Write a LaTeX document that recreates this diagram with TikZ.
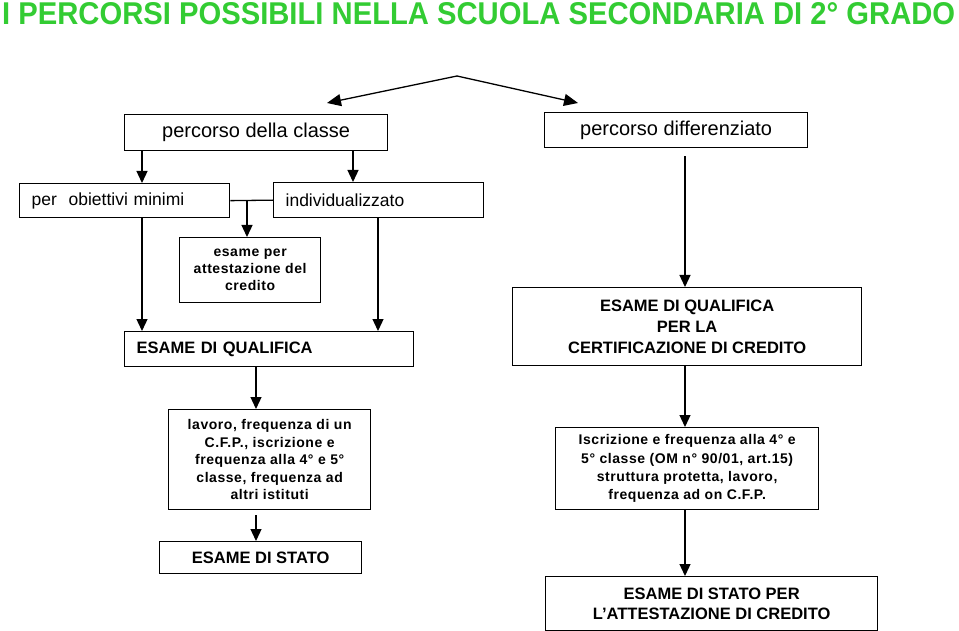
\documentclass[tikz,border=0pt]{standalone}
\usepackage{fontspec}
\setmainfont{Liberation Sans}
\usepackage{graphicx}
\usetikzlibrary{arrows.meta}
\definecolor{titlegreen}{RGB}{51,204,51}
\begin{document}
\begin{tikzpicture}[x=1pt,y=-1pt,
  box/.style={draw, line width=1.3pt, inner sep=0pt, anchor=north west, align=center},
  lbox/.style={box, align=left, inner xsep=12pt, text width=#1},
  arr/.style={line width=1.3pt, -{Triangle[length=12pt,width=11pt]}},
  toparr/.style={line width=1.3pt, -{Triangle[length=14pt,width=12pt]}},
  ln/.style={line width=1.3pt},
  plainbig/.style={font=\fontsize{20}{24}\selectfont},
  plainmid/.style={font=\fontsize{17.5}{21}\selectfont},
  smallbold/.style={font=\fontsize{14}{#1}\selectfont\bfseries\addfontfeature{LetterSpace=4}},
  capsbold/.style={font=\fontsize{16.5}{#1}\selectfont\bfseries}
]
\useasboundingbox (0,0) rectangle (959,631);
\fill[white] (0,0) rectangle (959,631);

% title
\node[anchor=base west, inner sep=0pt, text=titlegreen] (title) at (2,25)
  {\resizebox{953pt}{22pt}{\bfseries I PERCORSI POSSIBILI NELLA SCUOLA SECONDARIA DI 2° GRADO}};

% boxes
\node[box, minimum width=263pt, minimum height=36pt, plainbig] (classe) at (124,114) {percorso della classe};
\node[box, minimum width=263pt, minimum height=35pt, plainbig] (diff) at (544,112) {percorso differenziato};
\node[lbox=186pt, minimum height=34pt, plainmid] (obiet) at (19,183) {per\ \ obiettivi minimi};
\node[lbox=186pt, minimum height=35pt, plainmid] (indiv) at (273,182) {individualizzato};
\node[box, minimum width=141pt, minimum height=65pt, smallbold=17] (esper) at (179,237) {esame per\\attestazione del\\credito};
\node[lbox=265pt, minimum height=35pt, capsbold=20] (qual) at (124,331) {ESAME DI QUALIFICA};
\node[box, minimum width=349pt, minimum height=78pt, capsbold=21] (cert) at (512,287) {ESAME DI QUALIFICA\\PER LA\\CERTIFICAZIONE DI CREDITO};
\node[box, minimum width=202pt, minimum height=100pt, smallbold=17.5] (lav) at (168,409) {lavoro, frequenza di un\\C.F.P., iscrizione e\\frequenza alla 4° e 5°\\classe, frequenza ad\\altri istituti};
\node[box, minimum width=263pt, minimum height=82pt, smallbold=18.3] (iscr) at (555,427) {Iscrizione e frequenza alla 4° e\\5° classe (OM n° 90/01, art.15)\\struttura protetta, lavoro,\\frequenza ad on C.F.P.};
\node[box, minimum width=202pt, minimum height=32pt, capsbold=20] (stato) at (159,541) {ESAME DI STATO};
\node[box, minimum width=332pt, minimum height=54pt, capsbold=20] (stato2) at (545,576) {ESAME DI STATO PER\\L'ATTESTAZIONE DI CREDITO};

% helper coordinates
\coordinate (apex) at (457,76);
\coordinate (tipL) at (327,103);
\coordinate (tipR) at (578,103);
\coordinate (ca) at (142,0);
\coordinate (cb) at (353,0);
\coordinate (cc) at (247,0);
\coordinate (cd) at (378,0);
\coordinate (ce) at (256,0);
\coordinate (cf) at (685,0);

% connectors
\draw[toparr] (apex) -- (tipL);
\draw[toparr] (apex) -- (tipR);
\draw[arr] (classe.south -| ca) -- (obiet.north -| ca);
\draw[arr] (classe.south -| cb) -- (indiv.north -| cb);
\draw[ln] (obiet.east) -- (indiv.west);
\draw[arr] (obiet.east -| cc) -- (esper.north -| cc);
\draw[arr] (obiet.south -| ca) -- (qual.north -| ca);
\draw[arr] (indiv.south -| cd) -- (qual.north -| cd);
\draw[arr] (qual.south -| ce) -- (lav.north -| ce);
\draw[arr, shorten <=5pt] (lav.south -| ce) -- (stato.north -| ce);
\draw[arr, shorten <=8pt] (diff.south -| cf) -- (cert.north -| cf);
\draw[arr] (cert.south -| cf) -- (iscr.north -| cf);
\draw[arr] (iscr.south -| cf) -- (stato2.north -| cf);
\end{tikzpicture}
\end{document}
